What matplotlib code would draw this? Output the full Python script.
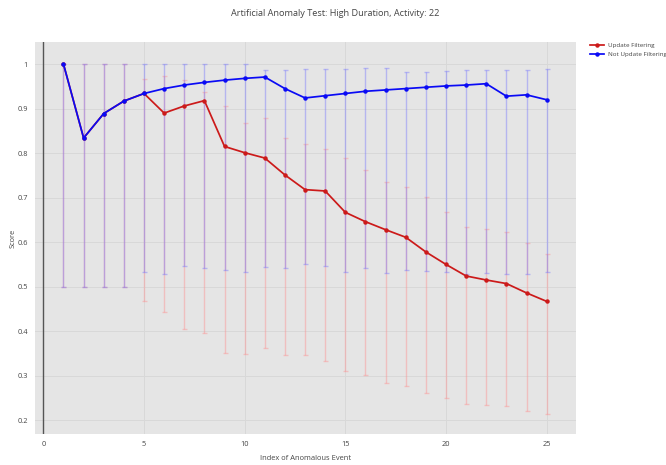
import matplotlib
matplotlib.use("Agg")
import matplotlib.pyplot as plt
import numpy as np

# ---- data ----
events = list(range(1, 26))

update_mean = [1.0, 0.834, 0.889, 0.917, 0.934, 0.890, 0.906, 0.918, 0.815, 0.801,
               0.789, 0.751, 0.718, 0.715, 0.667, 0.646, 0.628, 0.611, 0.578, 0.550,
               0.524, 0.515, 0.507, 0.486, 0.467]
update_upper = [1.0, 1.0, 1.0, 1.0, 0.967, 0.974, 0.965, 0.938, 0.907, 0.867,
                0.879, 0.834, 0.820, 0.810, 0.789, 0.761, 0.735, 0.723, 0.702, 0.667,
                0.635, 0.629, 0.623, 0.598, 0.574]
update_lower = [0.5, 0.5, 0.5, 0.5, 0.467, 0.444, 0.405, 0.395, 0.351, 0.348,
                0.363, 0.346, 0.346, 0.333, 0.310, 0.301, 0.283, 0.276, 0.262, 0.249,
                0.237, 0.234, 0.231, 0.221, 0.213]

noupdate_mean = [1.0, 0.834, 0.889, 0.917, 0.934, 0.945, 0.953, 0.959, 0.964, 0.968,
                 0.971, 0.945, 0.924, 0.929, 0.934, 0.939, 0.942, 0.945, 0.948, 0.951,
                 0.953, 0.956, 0.928, 0.931, 0.920]
noupdate_upper = [1.0, 1.0, 1.0, 1.0, 1.0, 1.0, 1.0, 1.0, 1.0, 1.0,
                  0.987, 0.987, 0.989, 0.989, 0.990, 0.991, 0.991, 0.983, 0.983, 0.985,
                  0.986, 0.987, 0.987, 0.987, 0.988]
noupdate_lower = [0.5, 0.5, 0.5, 0.5, 0.533, 0.529, 0.547, 0.541, 0.537, 0.533,
                  0.545, 0.541, 0.551, 0.547, 0.533, 0.541, 0.530, 0.537, 0.535, 0.532,
                  0.529, 0.530, 0.528, 0.528, 0.532]

series_names = ["Update Filtering", "Not Update Filtering"]
xticks = [0, 5, 10, 15, 20, 25]
yticks = [0.2, 0.3, 0.4, 0.5, 0.6, 0.7, 0.8, 0.9, 1.0]
ytick_labels = ["0.2", "0.3", "0.4", "0.5", "0.6", "0.7", "0.8", "0.9", "1"]

# ---- figure ----
plt.rcParams['font.family'] = ['Open Sans', 'DejaVu Sans']
fig = plt.figure(figsize=(6.66, 4.65), dpi=100)
ax = fig.add_axes([0.0521, 0.0667, 0.8128, 0.8423])
ax.set_facecolor('#e5e5e5')
for s in ax.spines.values():
    s.set_visible(False)

red = '#cc1a1a'
blue = '#0a0af5'

series = [
    (update_mean, update_lower, update_upper, red, (1.0, 0.55, 0.55, 0.42)),
    (noupdate_mean, noupdate_lower, noupdate_upper, blue, (0.45, 0.45, 1.0, 0.42)),
]
handles = []
for i, (m, lo, up, col, ecol) in enumerate(series):
    m = np.array(m); lo = np.array(lo); up = np.array(up)
    yerr = np.vstack([m - lo, up - m])
    ax.errorbar(events, m, yerr=yerr, fmt='none', ecolor=ecol, elinewidth=1.0,
                capsize=1.8, capthick=1.0, zorder=2 + i)
    h, = ax.plot(events, m, color=col, lw=1.25, marker='o', markersize=2.2,
                 zorder=5 + i, label=series_names[i])
    handles.append(h)

ax.set_xlim(-0.43, 26.46)
ax.set_ylim(0.169, 1.049)
ax.set_xticks(xticks)
ax.set_xticklabels([str(t) for t in xticks])
ax.set_yticks(yticks)
ax.set_yticklabels(ytick_labels)
ax.tick_params(length=0, labelsize=5.3, colors='#444444', pad=5)
ax.grid(True, color='#d8d8d8', lw=0.7)
ax.set_axisbelow(True)
ax.axvline(0, color='#555555', lw=1.0, zorder=1.5)

fig.text(306 / 666, 1 - 458 / 465, "Index of Anomalous Event", fontsize=5.4,
         color='#444444', ha='center', va='center')
fig.text(13 / 666, 1 - 238 / 465, "Score", fontsize=5.4, color='#444444',
         ha='center', va='center', rotation=90)
fig.text(335 / 666, 1 - 14 / 465, "Artificial Anomaly Test: High Duration, Activity: 22",
         fontsize=6.6, color='#444444', ha='center', va='center')

fig.legend(handles=handles, loc='upper left', bbox_to_anchor=(590 / 666, 1 - 43 / 465),
           frameon=False, fontsize=4.5, handlelength=2.3, labelspacing=0.5,
           handletextpad=0.5, borderaxespad=0, borderpad=0, labelcolor='#444444')

fig.savefig("out.png", dpi=100)
